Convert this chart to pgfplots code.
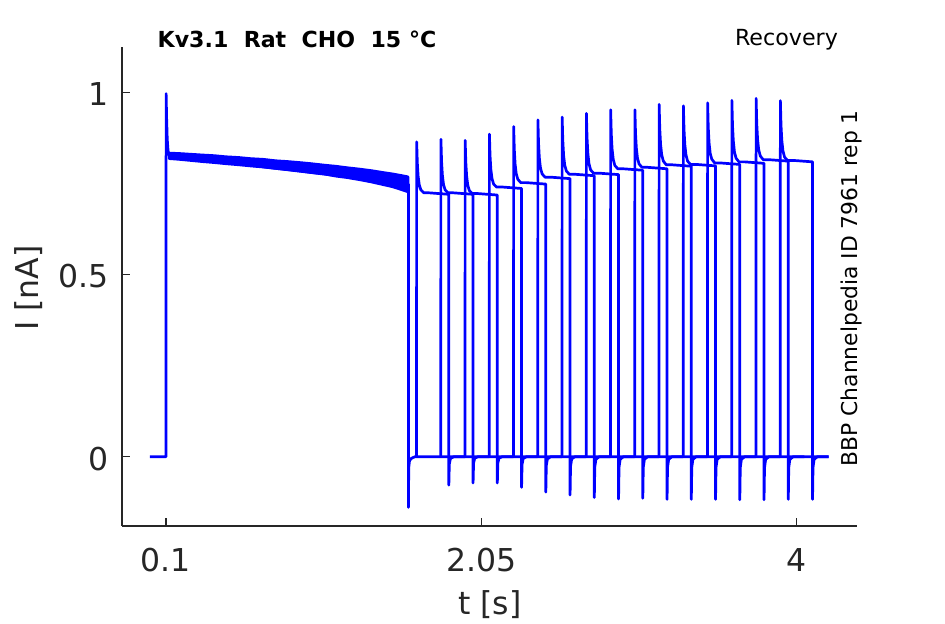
\documentclass[border=0pt]{standalone}
\usepackage{fontspec}
\setmainfont{DejaVu Sans}
\usepackage{pgfplots}
\pgfplotsset{compat=1.18}
\definecolor{axgray}{rgb}{0.15,0.15,0.15}
\definecolor{trace}{rgb}{0,0,1}
\tikzset{tr/.style={draw=trace, solid, line width=1.35pt, line join=round, mark=none}}
\begin{document}
\begin{tikzpicture}
\path[use as bounding box] (-61pt,-49pt) rectangle (411.5pt,263pt);
\begin{axis}[
  at={(0,0)}, anchor=south west,
  scale only axis, width=367.65pt, height=239.65pt,
  xmin=-0.172, xmax=4.377, ymin=-0.190, ymax=1.125,
  axis lines*=left, axis line style={axgray, line width=0.6pt, -},
  xtick={0.1,2.05,4}, xticklabels={0.1,2.05,4},
  ytick={0,0.5,1}, yticklabels={0,0.5,1},
  tick align=inside, major tick length=4pt,
  tick style={axgray, line width=0.6pt},
  ticklabel style={font=\fontsize{15.75}{18}\selectfont, text=axgray, inner sep=0pt},
  xticklabel style={anchor=base, yshift=-22.85pt},
  yticklabel style={anchor=east, xshift=-6.5pt, yshift=-0.9pt},
  clip=false,
]
% noisy band of the overlapping prepulse sweeps
\addplot[tr, fill=trace] coordinates {
(0.12,0.833) (0.18,0.832) (0.25,0.830) (0.32,0.828) (0.40,0.826) (0.47,0.823) (0.55,0.821) (0.62,0.818) (0.70,0.816) (0.78,0.812) (0.85,0.810) (0.93,0.807) (1.00,0.804) (1.08,0.800) (1.15,0.797) (1.22,0.793) (1.30,0.789) (1.37,0.785) (1.44,0.780) (1.50,0.776) (1.55,0.772) (1.597,0.768)
(1.597,0.727) (1.55,0.734) (1.50,0.741) (1.44,0.747) (1.37,0.754) (1.30,0.760) (1.22,0.766) (1.15,0.770) (1.08,0.776) (1.00,0.780) (0.93,0.784) (0.85,0.788) (0.78,0.791) (0.70,0.795) (0.62,0.798) (0.55,0.801) (0.47,0.804) (0.40,0.807) (0.32,0.810) (0.25,0.813) (0.18,0.816) (0.12,0.818)
} -- cycle;
% conditioning pulse, return and baseline
\addplot[tr] coordinates {
(0,0) (0.1,0) (0.101,0.996) (0.104,0.93) (0.108,0.87) (0.113,0.84) (0.12,0.826) (1.598,0.748)
(1.6,0.748) (1.6,-0.139) (1.602,-0.03) (1.607,-0.01) (1.62,-0.004) (1.64,0) (4.2,0)
};
% test pulses
\addplot[tr] coordinates {(1.65,0) (1.651,0.864) (1.655,0.806) (1.66,0.770) (1.667,0.746) (1.677,0.732) (1.695,0.724) (1.73,0.724) (1.85,0.72) (1.85,-0.078) (1.853,-0.020) (1.86,-0.005) (1.88,0) (1.95,0)};
\addplot[tr] coordinates {(1.80,0) (1.801,0.871) (1.805,0.811) (1.81,0.773) (1.817,0.747) (1.827,0.732) (1.845,0.724) (1.88,0.724) (2.00,0.72) (2.00,-0.072) (2.003,-0.018) (2.01,-0.004) (2.03,0) (2.10,0)};
\addplot[tr] coordinates {(1.95,0) (1.951,0.868) (1.955,0.808) (1.96,0.771) (1.967,0.745) (1.977,0.730) (1.995,0.722) (2.03,0.722) (2.15,0.718) (2.15,-0.072) (2.153,-0.018) (2.16,-0.004) (2.18,0) (2.25,0)};
\addplot[tr] coordinates {(2.10,0) (2.101,0.885) (2.105,0.825) (2.11,0.788) (2.117,0.763) (2.127,0.748) (2.145,0.740) (2.18,0.740) (2.30,0.736) (2.30,-0.084) (2.303,-0.021) (2.31,-0.005) (2.33,0) (2.40,0)};
\addplot[tr] coordinates {(2.25,0) (2.251,0.906) (2.255,0.843) (2.26,0.803) (2.267,0.776) (2.277,0.761) (2.295,0.752) (2.33,0.752) (2.45,0.748) (2.45,-0.097) (2.453,-0.024) (2.46,-0.006) (2.48,0) (2.55,0)};
\addplot[tr] coordinates {(2.40,0) (2.401,0.924) (2.405,0.860) (2.41,0.819) (2.417,0.792) (2.427,0.776) (2.445,0.767) (2.48,0.767) (2.60,0.763) (2.60,-0.105) (2.603,-0.026) (2.61,-0.006) (2.63,0) (2.70,0)};
\addplot[tr] coordinates {(2.55,0) (2.551,0.932) (2.555,0.868) (2.56,0.827) (2.567,0.800) (2.577,0.784) (2.595,0.775) (2.63,0.775) (2.75,0.771) (2.75,-0.112) (2.753,-0.028) (2.76,-0.007) (2.78,0) (2.85,0)};
\addplot[tr] coordinates {(2.70,0) (2.701,0.942) (2.705,0.875) (2.71,0.833) (2.717,0.804) (2.727,0.787) (2.745,0.778) (2.78,0.778) (2.90,0.774) (2.90,-0.116) (2.903,-0.029) (2.91,-0.007) (2.93,0) (3.00,0)};
\addplot[tr] coordinates {(2.85,0) (2.851,0.952) (2.855,0.886) (2.86,0.844) (2.867,0.816) (2.877,0.799) (2.895,0.790) (2.93,0.790) (3.05,0.786) (3.05,-0.114) (3.053,-0.029) (3.06,-0.007) (3.08,0) (3.15,0)};
\addplot[tr] coordinates {(3.00,0) (3.001,0.952) (3.005,0.887) (3.01,0.847) (3.017,0.819) (3.027,0.803) (3.045,0.794) (3.08,0.794) (3.20,0.790) (3.20,-0.117) (3.203,-0.029) (3.21,-0.007) (3.23,0) (3.30,0)};
\addplot[tr] coordinates {(3.15,0) (3.151,0.967) (3.155,0.899) (3.16,0.857) (3.167,0.828) (3.177,0.811) (3.195,0.801) (3.23,0.801) (3.35,0.797) (3.35,-0.117) (3.353,-0.029) (3.36,-0.007) (3.38,0) (3.45,0)};
\addplot[tr] coordinates {(3.30,0) (3.301,0.963) (3.305,0.897) (3.31,0.856) (3.317,0.828) (3.327,0.811) (3.345,0.802) (3.38,0.802) (3.50,0.798) (3.50,-0.117) (3.503,-0.029) (3.51,-0.007) (3.53,0) (3.60,0)};
\addplot[tr] coordinates {(3.45,0) (3.451,0.971) (3.455,0.903) (3.46,0.861) (3.467,0.832) (3.477,0.816) (3.495,0.806) (3.53,0.806) (3.65,0.802) (3.65,-0.118) (3.653,-0.030) (3.66,-0.007) (3.68,0) (3.75,0)};
\addplot[tr] coordinates {(3.60,0) (3.601,0.978) (3.605,0.909) (3.61,0.866) (3.617,0.836) (3.627,0.819) (3.645,0.809) (3.68,0.809) (3.80,0.805) (3.80,-0.118) (3.803,-0.030) (3.81,-0.007) (3.83,0) (3.90,0)};
\addplot[tr] coordinates {(3.75,0) (3.751,0.983) (3.755,0.914) (3.76,0.871) (3.767,0.842) (3.777,0.825) (3.795,0.815) (3.83,0.815) (3.95,0.811) (3.95,-0.117) (3.953,-0.029) (3.96,-0.007) (3.98,0) (4.05,0)};
\addplot[tr] coordinates {(3.90,0) (3.901,0.977) (3.905,0.910) (3.91,0.868) (3.917,0.839) (3.927,0.822) (3.945,0.813) (3.98,0.813) (4.10,0.809) (4.10,-0.117) (4.103,-0.029) (4.11,-0.007) (4.13,0) (4.20,0)};
\end{axis}
\node[anchor=base, font=\fontsize{15.75}{18}\selectfont, text=axgray, inner sep=0pt] at (183.85pt,-44.5pt) {t [s]};
\node[rotate=90, anchor=base, font=\fontsize{15.75}{18}\selectfont, text=axgray, inner sep=0pt] at (-41.85pt,118.85pt) {I [nA]};
\node[anchor=base west, font=\bfseries\fontsize{11.05}{13}\selectfont, inner sep=0pt] at (17.65pt,239.35pt) {Kv3.1\ \ Rat\ \ CHO\ \ 15 °C};
\node[anchor=base west, font=\fontsize{11.1}{13}\selectfont, inner sep=0pt] at (306.3pt,240pt) {Recovery};
\node[rotate=90, anchor=base west, font=\fontsize{10.9}{13}\selectfont, inner sep=0pt] at (367.7pt,29.65pt) {BBP Channelpedia ID 7961 rep 1};
\end{tikzpicture}
\end{document}
